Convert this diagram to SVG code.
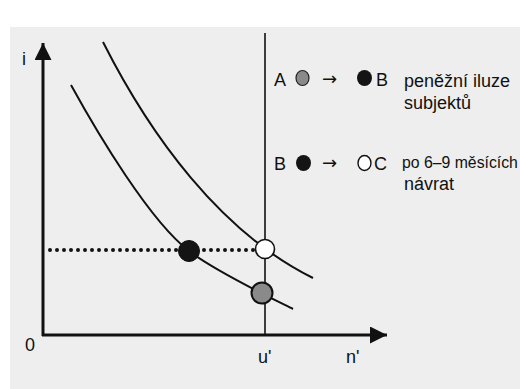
<svg xmlns="http://www.w3.org/2000/svg" width="520" height="389" viewBox="0 0 520 389">
  <style>
    .t { font-family: "Liberation Sans", Arial, sans-serif; font-size: 18px; fill: #111; }
    .t2 { font-family: "Liberation Sans", Arial, sans-serif; font-size: 15.8px; fill: #111; }
    .arr { font-family: "DejaVu Sans", sans-serif; font-size: 18px; fill: #111; }
    .ln { fill: none; stroke: #111; }
    .curve { fill: none; stroke: #111; stroke-width: 2; }
  </style>
  <defs>
    <marker id="ah" viewBox="0 0 10 10" refX="10" refY="5" markerWidth="17" markerHeight="17" markerUnits="userSpaceOnUse" orient="auto">
      <path d="M0,0 L10,5 L0,10 Z" fill="#111"/>
    </marker>
  </defs>
  <rect width="520" height="389" fill="#ffffff"/>
  <rect x="10" y="27" width="510" height="362" fill="#eeeeee"/>

  <g id="axes">
    <line class="ln" x1="43" y1="336" x2="43" y2="43" stroke-width="3" marker-end="url(#ah)"/>
    <line class="ln" x1="42" y1="335" x2="387" y2="335" stroke-width="3" marker-end="url(#ah)"/>
    <text class="t" x="22" y="65">i</text>
    <text class="t" x="25" y="351">0</text>
    <text class="t" x="258" y="363">u'</text>
    <text class="t" x="346" y="363">n'</text>
  </g>

  <g id="connectors">
    <line class="ln" x1="265" y1="33" x2="265" y2="335" stroke-width="1.6"/>
    <path class="curve" d="M103,42 C150,135 220,232 313,278"/>
    <path class="curve" d="M71,85 C98.5,135 150,221 189,251 C215,271 269,297 293,309"/>
    <line x1="50" y1="250" x2="255" y2="250" stroke="#111" stroke-width="4" stroke-linecap="round" stroke-dasharray="0 7"/>
  </g>

  <g id="point-B">
    <circle cx="189" cy="251" r="10.5" fill="#141414" stroke="#111" stroke-width="1"/>
  </g>
  <g id="point-C">
    <circle cx="265" cy="249" r="9.5" fill="#ffffff" stroke="#111" stroke-width="1.6"/>
  </g>
  <g id="point-A">
    <circle cx="262" cy="293" r="10.5" fill="#8a8a8a" stroke="#111" stroke-width="2"/>
  </g>

  <g id="legend-1">
    <text class="t" x="274" y="86">A</text>
    <ellipse cx="302.5" cy="78" rx="6.5" ry="7.5" fill="#8a8a8a" stroke="#222" stroke-width="1.2"/>
    <text class="arr" x="322" y="85">→</text>
    <ellipse cx="364.5" cy="78" rx="7.5" ry="8" fill="#141414"/>
    <text class="t" x="376" y="86">B</text>
    <text class="t" x="404" y="87">peněžní iluze</text>
    <text class="t" x="404" y="109">subjektů</text>
  </g>

  <g id="legend-2">
    <text class="t" x="274" y="170">B</text>
    <ellipse cx="303.5" cy="163" rx="7.5" ry="8" fill="#141414"/>
    <text class="arr" x="322" y="169">→</text>
    <ellipse cx="364.5" cy="163" rx="6.5" ry="7.5" fill="#ffffff" stroke="#111" stroke-width="1.4"/>
    <text class="t" x="374" y="170">C</text>
    <text class="t2" x="402" y="168">po 6–9 měsících</text>
    <text class="t" x="404" y="190">návrat</text>
  </g>
</svg>
